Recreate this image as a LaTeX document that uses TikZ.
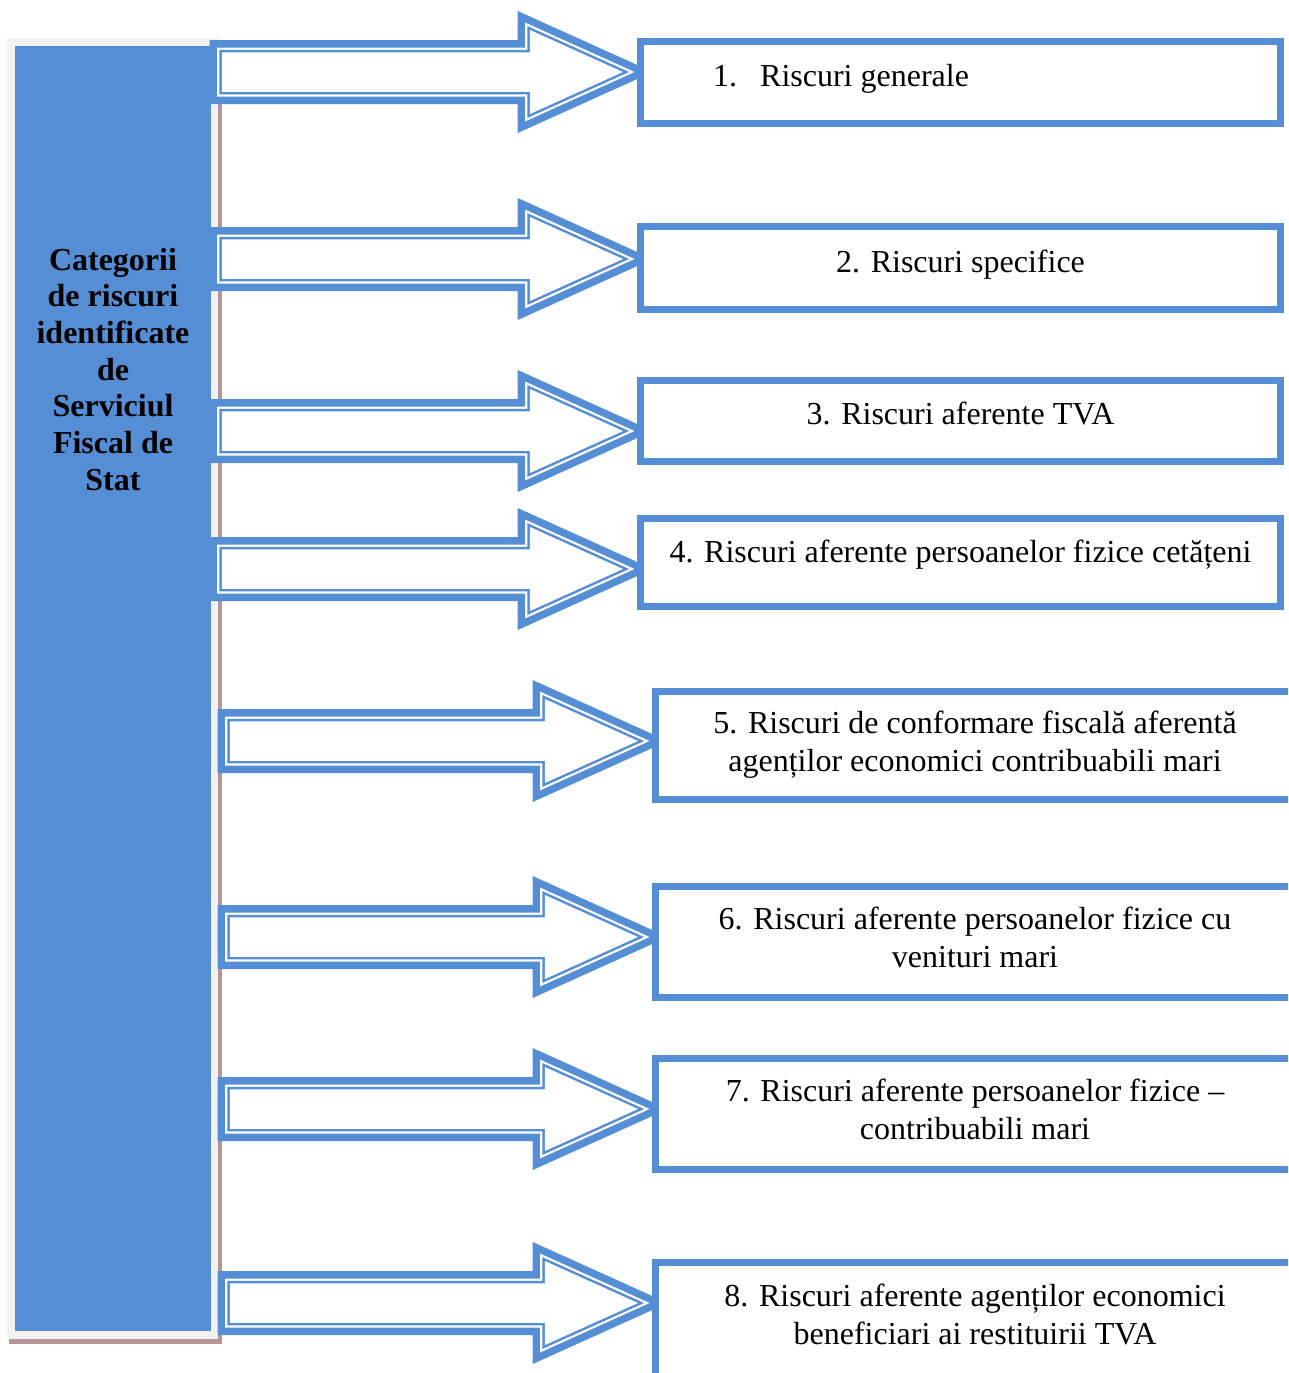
\documentclass[tikz,border=0pt]{standalone}
\usepackage{fontspec}
\setmainfont{Liberation Serif}

\definecolor{riskblue}{RGB}{85,142,213}
\definecolor{framegray}{RGB}{242,242,242}
\definecolor{shadowrose}{RGB}{180,148,148}

% Outline of a block arrow whose tip lies at the origin, offset by #1
% (positive = outwards); #2 is the x of the open left end.
\newcommand{\blockarrowpath}[2]{%
  ({#2-(#1)},{-25.5-(#1)}) -- ({-113-(#1)},{-25.5-(#1)}) --
  ({-113-(#1)},{-51-1.5485*(#1)}) -- ({2.431*(#1)},0) --
  ({-113-(#1)},{51+1.5485*(#1)}) -- ({-113-(#1)},{25.5+(#1)}) --
  ({#2-(#1)},{25.5+(#1)}) -- cycle}

\begin{document}
\begin{tikzpicture}[x=1pt,y=-1pt,
  riskbox/.style={draw=riskblue, line width=7pt, fill=white,
    inner sep=0pt, outer sep=0pt, rectangle},
  risktext/.style={font=\fontsize{32}{37.5}\selectfont, align=center,
    inner sep=0pt, anchor=base},
  pics/blockarrow/.style={code={
    % thick outer band, white gap, thin inner line
    \fill[riskblue] \blockarrowpath{6.5}{#1};
    \fill[white]    \blockarrowpath{-1}{#1};
    \fill[riskblue] \blockarrowpath{-3.25}{#1};
    \fill[white]    \blockarrowpath{-5.75}{#1};
  }}]

\useasboundingbox (0,0) rectangle (1288,1373);
\fill[white] (0,0) rectangle (1288,1373);
\clip (0,0) rectangle (1288,1373);

% left category bar with frame and shadow
\fill[shadowrose] (9,44) rectangle (222,1344);
\fill[framegray] (7,38) rectangle (218,1339);
\node[fill=riskblue, inner sep=0pt, outer sep=0pt,
      minimum width=196pt, minimum height=1285pt] (bar) at (113,688.5) {};
% the base anchor of a multi-line node sits on its last line
\node[font=\bfseries\fontsize{32}{36.7}\selectfont, align=center,
      inner sep=0pt, anchor=base] (bartext) at (113,490.2)
  {Categorii\\de riscuri\\identificate\\de\\Serviciul\\Fiscal de\\Stat};

% arrows from the bar to the boxes
\pic (a1) at (637,72)   {blockarrow=-421};
\pic (a2) at (637,259)  {blockarrow=-421};
\pic (a3) at (637,431)  {blockarrow=-421};
\pic (a4) at (637,569)  {blockarrow=-421};
\pic (a5) at (652,741)  {blockarrow=-428};
\pic (a6) at (652,937)  {blockarrow=-428};
\pic (a7) at (652,1109) {blockarrow=-428};
\pic (a8) at (652,1303) {blockarrow=-428};

% risk boxes
\node[riskbox, minimum width=640pt, minimum height=82pt]  (b1) at (960.5,82.5) {};
\node[riskbox, minimum width=640pt, minimum height=83pt]  (b2) at (960.5,268) {};
\node[riskbox, minimum width=640pt, minimum height=81pt]  (b3) at (960.5,421) {};
\node[riskbox, minimum width=640pt, minimum height=88pt]  (b4) at (960.5,562.5) {};
\node[riskbox, minimum width=641pt, minimum height=108pt] (b5) at (976,745.5) {};
\node[riskbox, minimum width=641pt, minimum height=111pt] (b6) at (976,942) {};
\node[riskbox, minimum width=641pt, minimum height=111pt] (b7) at (976,1114) {};
\node[riskbox, minimum width=641pt, minimum height=134pt] (b8) at (976,1329.5) {};

% box texts
\node[risktext, anchor=base west] (t1) at (713,86) {1.\hspace{23pt}Riscuri generale};
\node[risktext] (t2) at (960.5,272) {2. Riscuri specifice};
\node[risktext] (t3) at (960.5,424) {3. Riscuri aferente TVA};
\node[risktext] (t4) at (960.5,562) {4. Riscuri aferente persoanelor fizice cetățeni};
\node[risktext] (t5) at (975,771)
  {5. Riscuri de conformare fiscală aferentă\\agenților economici contribuabili mari};
\node[risktext] (t6) at (975,967)
  {6. Riscuri aferente persoanelor fizice cu\\venituri mari};
\node[risktext] (t7) at (975,1139)
  {7. Riscuri aferente persoanelor fizice –\\contribuabili mari};
\node[risktext] (t8) at (975,1344)
  {8. Riscuri aferente agenților economici\\beneficiari ai restituirii TVA};

\end{tikzpicture}
\end{document}
